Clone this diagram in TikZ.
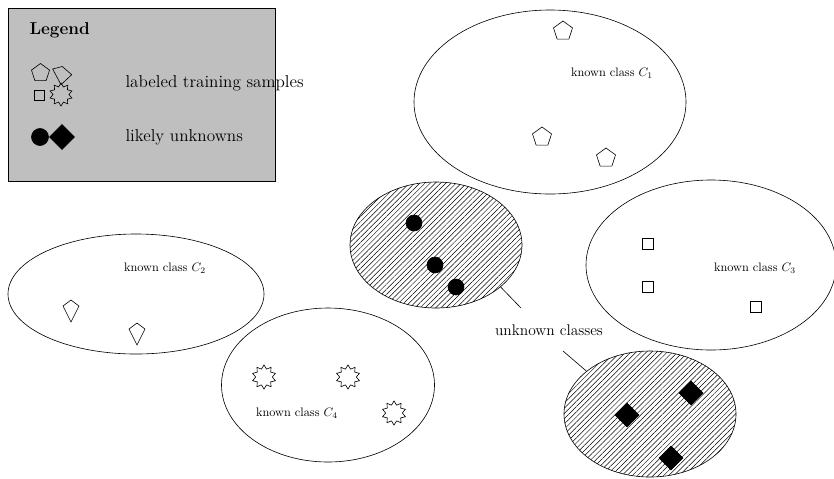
\documentclass[tikz,border=0pt]{standalone}
\usetikzlibrary{shapes.geometric,patterns.meta}
\def\pxu{0.815pt}
\definecolor{legendgray}{HTML}{BFBFBF}
\begin{document}
\begin{tikzpicture}[x=0.815pt,y=-0.815pt,line width=0.5pt,
  cls/.style={draw,ellipse,inner sep=0pt},
  unk/.style={draw,ellipse,inner sep=0pt,pattern={Lines[angle=45,distance=3pt,line width=0.4pt]}},
  pent/.style={draw,regular polygon,regular polygon sides=5,minimum size=20*\pxu,inner sep=0pt},
  sq/.style={draw,rectangle,minimum size=11*\pxu,inner sep=0pt},
  burst/.style={draw,star,star points=10,star point ratio=1.45,minimum size=24*\pxu,inner sep=0pt},
  dot/.style={draw,fill=black,circle,minimum size=16*\pxu,inner sep=0pt},
  dia/.style={draw,fill=black,diamond,aspect=1,minimum size=24*\pxu,inner sep=0pt},
  lbl/.style={inner sep=1pt},
  legfont/.style={font=\fontsize{14}{17}\selectfont},
  kite/.pic={\draw[line join=miter] (0,-10) -- (8,-4) -- (0,12) -- (-8,-4) -- cycle;}]
\useasboundingbox (0,0) rectangle (834,478);
% legend
\node[draw,fill=legendgray,minimum width=267*\pxu,minimum height=173*\pxu,inner sep=0pt] (legend) at (141.5,94.5) {};
\node[anchor=west,lbl,legfont] (legtitle) at (28,30) {\textbf{Legend}};
\node[pent,minimum size=19*\pxu] (lp1) at (40.5,73) {};
\draw[line join=miter] (62.3,66.5) -- (71.7,74.7) -- (61,84.7) -- (52.7,69) -- cycle;
\node[sq,minimum size=10*\pxu] (lsq) at (39,95) {};
\node[burst,minimum size=23*\pxu] (lst) at (61,94.5) {};
\node[dot,minimum size=17*\pxu] (ldot) at (40,137) {};
\node[dia,minimum size=25*\pxu] (ldia) at (62,137) {};
\node[anchor=west,lbl,legfont] (legt1) at (124,83) {labeled training samples};
\node[anchor=west,lbl,legfont] (legt2) at (124,137) {likely unknowns};
% class C1
\node[cls,minimum width=272*\pxu,minimum height=184*\pxu] (c1) at (550,102) {};
\node[lbl] (c1t) at (612,73) {known class $C_1$};
\node[pent] (c1a) at (563,31) {};
\node[pent] (c1b) at (542,137) {};
\node[pent] (c1c) at (606,158) {};
% class C2
\node[cls,minimum width=256*\pxu,minimum height=120*\pxu] (c2) at (136,294) {};
\node[lbl] (c2t) at (165,268) {known class $C_2$};
\pic at (71,310) {kite};
\pic at (137,333) {kite};
% class C3
\node[cls,minimum width=250*\pxu,minimum height=170*\pxu] (c3) at (711,265) {};
\node[lbl] (c3t) at (755,268) {known class $C_3$};
\node[sq] (c3a) at (648,244) {};
\node[sq] (c3b) at (648,287) {};
\node[sq] (c3c) at (756,307) {};
% class C4
\node[cls,minimum width=213*\pxu,minimum height=154*\pxu] (c4) at (328,385) {};
\node[lbl] (c4t) at (297,413) {known class $C_4$};
\node[burst] (c4a) at (264,377) {};
\node[burst] (c4b) at (348,377) {};
\node[burst] (c4c) at (394,413) {};
% unknown 1
\node[unk,minimum width=172*\pxu,minimum height=126*\pxu] (u1) at (436,245) {};
\node[dot] (u1a) at (414,223) {};
\node[dot] (u1b) at (435,265) {};
\node[dot] (u1c) at (456,287) {};
% unknown 2
\node[unk,minimum width=172*\pxu,minimum height=126*\pxu] (u2) at (650,414) {};
\node[dia] (u2a) at (627,415) {};
\node[dia] (u2b) at (691,393) {};
\node[dia] (u2c) at (671,458) {};
% label and connectors
\node[lbl,font=\fontsize{12.6}{15}\selectfont] (ulbl) at (549,330) {unknown classes};
\coordinate (e1) at (521,308);
\coordinate (e2) at (563,351);
\draw (u1.-33.7) -- (e1);
\draw (e2) -- (u2.146.7);
\end{tikzpicture}
\end{document}
